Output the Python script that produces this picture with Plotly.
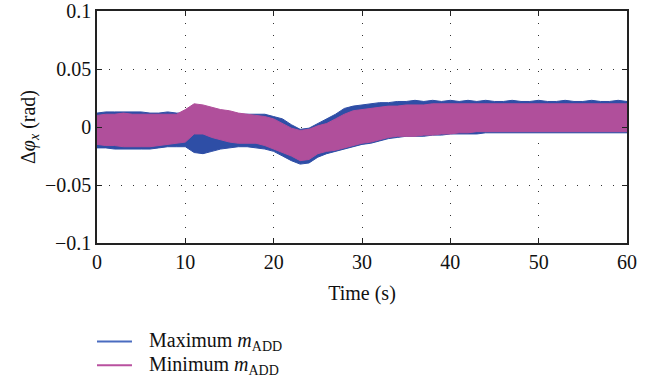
import plotly.graph_objects as go

# Time axis (s), one envelope sample per second
time_s = list(range(0, 61))

# Maximum m_ADD: upper / lower envelope of the oscillation (rad)
max_upper = [0.012, 0.013, 0.013, 0.013, 0.013, 0.013, 0.012, 0.012, 0.013, 0.012,
             0.012, 0.012, 0.012, 0.012, 0.012, 0.012, 0.011, 0.011, 0.011, 0.011,
             0.009, 0.007, 0.002, -0.002, -0.001, 0.003, 0.007, 0.011, 0.016, 0.018,
             0.019, 0.020, 0.021, 0.021, 0.022, 0.022, 0.023, 0.022, 0.023, 0.022,
             0.023, 0.022, 0.023, 0.022, 0.023, 0.022, 0.022, 0.023, 0.022, 0.022,
             0.023, 0.022, 0.022, 0.023, 0.022, 0.022, 0.023, 0.022, 0.022, 0.023,
             0.022]
max_lower = [-0.018, -0.018, -0.019, -0.019, -0.019, -0.019, -0.019, -0.018, -0.017, -0.017,
             -0.017, -0.022, -0.023, -0.021, -0.019, -0.018, -0.017, -0.017, -0.018, -0.019,
             -0.021, -0.025, -0.029, -0.032, -0.031, -0.026, -0.023, -0.021, -0.019, -0.017,
             -0.015, -0.014, -0.012, -0.010, -0.009, -0.008, -0.008, -0.008, -0.007, -0.007,
             -0.006, -0.006, -0.006, -0.006, -0.005, -0.005, -0.005, -0.005, -0.005, -0.005,
             -0.005, -0.005, -0.005, -0.005, -0.005, -0.005, -0.005, -0.005, -0.005, -0.005,
             -0.005]

# Minimum m_ADD: upper / lower envelope of the oscillation (rad)
min_upper = [0.010, 0.011, 0.011, 0.012, 0.011, 0.011, 0.011, 0.011, 0.011, 0.011,
             0.015, 0.020, 0.019, 0.017, 0.015, 0.014, 0.012, 0.011, 0.010, 0.009,
             0.007, 0.003, -0.001, -0.003, -0.002, 0.001, 0.003, 0.007, 0.011, 0.014,
             0.015, 0.016, 0.017, 0.018, 0.018, 0.019, 0.019, 0.019, 0.020, 0.020,
             0.020, 0.020, 0.020, 0.020, 0.020, 0.020, 0.020, 0.020, 0.020, 0.020,
             0.020, 0.020, 0.020, 0.020, 0.020, 0.020, 0.020, 0.020, 0.020, 0.020,
             0.020]
min_lower = [-0.015, -0.016, -0.016, -0.017, -0.017, -0.017, -0.017, -0.016, -0.015, -0.014,
             -0.013, -0.006, -0.006, -0.009, -0.011, -0.013, -0.014, -0.014, -0.014, -0.016,
             -0.019, -0.022, -0.025, -0.029, -0.028, -0.023, -0.021, -0.020, -0.018, -0.016,
             -0.014, -0.013, -0.011, -0.009, -0.008, -0.008, -0.008, -0.007, -0.007, -0.006,
             -0.006, -0.005, -0.005, -0.004, -0.004, -0.004, -0.004, -0.004, -0.004, -0.004,
             -0.004, -0.004, -0.004, -0.004, -0.004, -0.004, -0.004, -0.004, -0.004, -0.004,
             -0.004]

series = [
    ("Maximum <i>m</i><sub>ADD</sub>", max_upper, max_lower, "#2e4ea6", "#4a6cc0"),
    ("Minimum <i>m</i><sub>ADD</sub>", min_upper, min_lower, "#b04f9b", "#b9519f"),
]

x_ticks = [0, 10, 20, 30, 40, 50, 60]
y_ticks = [-0.1, -0.05, 0, 0.05, 0.1]
y_tick_text = ["\u22120.1", "\u22120.05", "0", "0.05", "0.1"]

SERIF = "Liberation Serif"
FS = 20

fig = go.Figure()
for name, up, lo, band_col, _ in series:
    fig.add_trace(go.Scatter(
        x=time_s + time_s[::-1],
        y=up + lo[::-1],
        fill="toself",
        fillcolor=band_col,
        line=dict(color=band_col, width=1),
        mode="lines",
        name=name,
        showlegend=False,
        hoverinfo="skip",
    ))

axis_common = dict(
    showline=True, linecolor="#222", linewidth=1.5, mirror="ticks",
    ticks="inside", ticklen=5, tickcolor="#222",
    showgrid=True, gridcolor="#333", gridwidth=1, griddash="1px,11px",
    zeroline=False, automargin=False, ticklabeloverflow="allow",
    tickfont=dict(family=SERIF, size=FS, color="#111"),
)

fig.update_xaxes(
    range=[0, 60], tickvals=x_ticks,
    title=dict(text="Time (s)", font=dict(family=SERIF, size=FS, color="#111"), standoff=14),
    **axis_common,
)
fig.update_yaxes(
    range=[-0.1, 0.1], tickvals=y_ticks, ticktext=y_tick_text,
    title=dict(text="\u0394<i>\u03c6</i><sub><i>x</i></sub> (rad)",
               font=dict(family=SERIF, size=FS, color="#111"), standoff=4),
    **axis_common,
)

# Legend drawn below the axes: a short line sample followed by the label
legend_y = [-0.425, -0.527]
for (name, _, _, _, line_col), ly in zip(series, legend_y):
    fig.add_shape(type="line", xref="paper", yref="paper",
                  x0=0.0, x1=0.066, y0=ly, y1=ly,
                  line=dict(color=line_col, width=2))
    fig.add_annotation(xref="paper", yref="paper", x=0.094, y=ly,
                       xanchor="left", yanchor="middle", showarrow=False,
                       text=name, font=dict(family=SERIF, size=FS, color="#111"))

fig.update_layout(
    width=660, height=389,
    margin=dict(l=97, r=33, t=11, b=146),
    paper_bgcolor="white", plot_bgcolor="white",
    showlegend=False,
)

fig.write_html("out.html")
